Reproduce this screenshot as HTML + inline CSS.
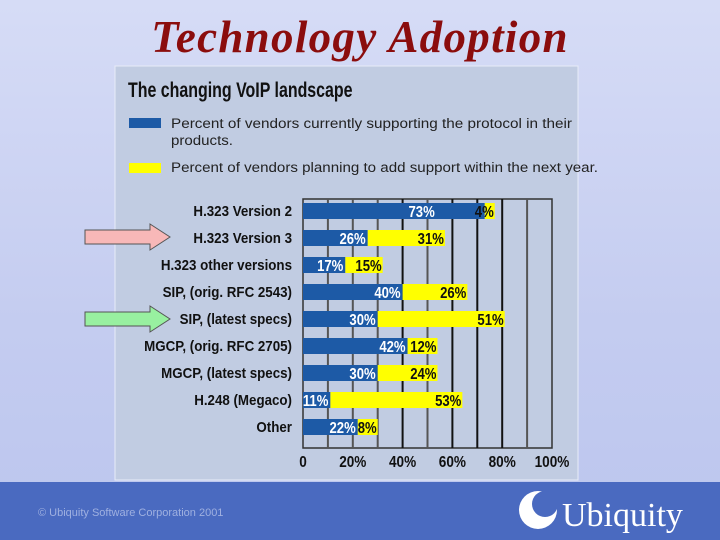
<!DOCTYPE html>
<html><head><meta charset="utf-8">
<style>
body{margin:0;width:720px;height:540px;overflow:hidden;background:linear-gradient(180deg,#d6dcf6 0%,#c4ccf0 60%,#bcc6ee 100%);position:relative;font-family:"Liberation Sans",sans-serif}
.t{position:absolute}
</style></head><body>
<div class="t" style="left:0;width:720px;top:11px;text-align:center;font:italic bold 45px 'Liberation Serif',serif;color:#8b0d0d;letter-spacing:1.3px">Technology Adoption</div>
<svg class="t" style="left:0;top:0" width="720" height="540" id="chart">
<rect x="115" y="66" width="463" height="414" fill="#c1cce2" stroke="#e8ecf8" stroke-width="1"/>
<text x="128" y="97" font-weight="bold" font-size="21" fill="#111" transform="translate(128,0) scale(0.76,1) translate(-128,0)">The changing VoIP landscape</text>
<rect x="129" y="118" width="32" height="10" fill="#1d5aa6"/>
<text x="171" y="128" font-size="13.5" fill="#222" textLength="401" lengthAdjust="spacingAndGlyphs">Percent of vendors currently supporting the protocol in their</text>
<text x="171" y="145" font-size="13.5" fill="#222" textLength="62" lengthAdjust="spacingAndGlyphs">products.</text>
<rect x="129" y="163" width="32" height="10" fill="#ffff00"/>
<text x="171" y="172" font-size="13.5" fill="#222" textLength="427" lengthAdjust="spacingAndGlyphs">Percent of vendors planning to add support within the next year.</text>
<g id="plot"></g>
<polygon points="85,230 150,230 150,224 170,237 150,250 150,244 85,244" fill="#f8b8b8" stroke="#555" stroke-width="1"/>
<polygon points="85,312 150,312 150,306 170,319 150,332 150,326 85,326" fill="#98f0a0" stroke="#555" stroke-width="1"/>
<rect x="0" y="482" width="720" height="58" fill="#4a6ac0"/>
<text x="38" y="516" font-size="11" fill="#9fb0e0">© Ubiquity Software Corporation 2001</text>
<g>
<circle cx="538" cy="510" r="19" fill="#fff"/>
<circle cx="545" cy="504" r="13" fill="#4a6ac0"/>
<text x="562" y="526" font-family="'Liberation Serif',serif" font-size="34" fill="#fff">Ubiquity</text>
</g>
</svg>
<script>
const categories=["H.323 Version 2","H.323 Version 3","H.323 other versions","SIP, (orig. RFC 2543)","SIP, (latest specs)","MGCP, (orig. RFC 2705)","MGCP, (latest specs)","H.248 (Megaco)","Other"];
const current=[73,26,17,40,30,42,30,11,22];
const planned=[4,31,15,26,51,12,24,53,8];
const tickLabels=["0","20%","40%","60%","80%","100%"];
const tickValues=[0,20,40,60,80,100];
const NS="http://www.w3.org/2000/svg";
const g=document.getElementById('plot');
const x0=303,x1=552,yTop=199,yBot=448,rowH=27,firstC=211;
const X=v=>x0+(x1-x0)*v/100;
const Y=i=>firstC+i*rowH;
function mk(t,a){const e=document.createElementNS(NS,t);for(const k in a)e.setAttribute(k,a[k]);g.appendChild(e);return e;}
function sq(e,x,s){e.setAttribute('transform','translate('+x+',0) scale('+s+',1) translate('+(-x)+',0)');}
let frame=mk('rect',{x:x0,y:yTop,width:x1-x0,height:yBot-yTop,fill:'none',stroke:'#333','stroke-width':1.5});


for(let v=10;v<100;v+=10){
 const dark=(v>=40&&v!==50&&v!==90);
 const l=mk('line',{x1:X(v),x2:X(v),y1:yTop,y2:yBot,stroke:dark?'#111':'#555','stroke-width':2});
 
 
}
categories.forEach((c,i)=>{
 const y=Y(i);
 const lab=mk('text',{x:292,y:y+5,'text-anchor':'end','font-size':14.5,'font-weight':'bold',fill:'#111'});
 lab.textContent=c;
 sq(lab,292,0.92);
 
 
 const b1=mk('rect',{x:x0,y:y-8,width:X(current[i])-x0,height:16,fill:'#1d5aa6'});
 
 
 const b2=mk('rect',{x:X(current[i]),y:y-8,width:X(current[i]+planned[i])-X(current[i]),height:16,fill:'#ffff00'});
 
 
 const tx1=X(current[i])-(current[i]>60?50:2);
 const t1=mk('text',{x:tx1,y:y+6,'text-anchor':'end','font-size':16,'font-weight':'bold',fill:'#fff'});
 t1.textContent=current[i]+'%';
 sq(t1,tx1,0.82);
 
 
 const tx2=X(current[i]+planned[i])-1;
 const t2=mk('text',{x:tx2,y:y+6,'text-anchor':'end','font-size':16,'font-weight':'bold',fill:'#111'});
 t2.textContent=planned[i]+'%';
 sq(t2,tx2,0.82);
 
 
});
tickValues.forEach((v,i)=>{
 const t=mk('text',{x:X(v),y:467,'text-anchor':'middle','font-size':16,'font-weight':'bold',fill:'#111'});
 t.textContent=tickLabels[i];
 sq(t,X(v),0.85);
 
 
});
</script>
</body></html>
